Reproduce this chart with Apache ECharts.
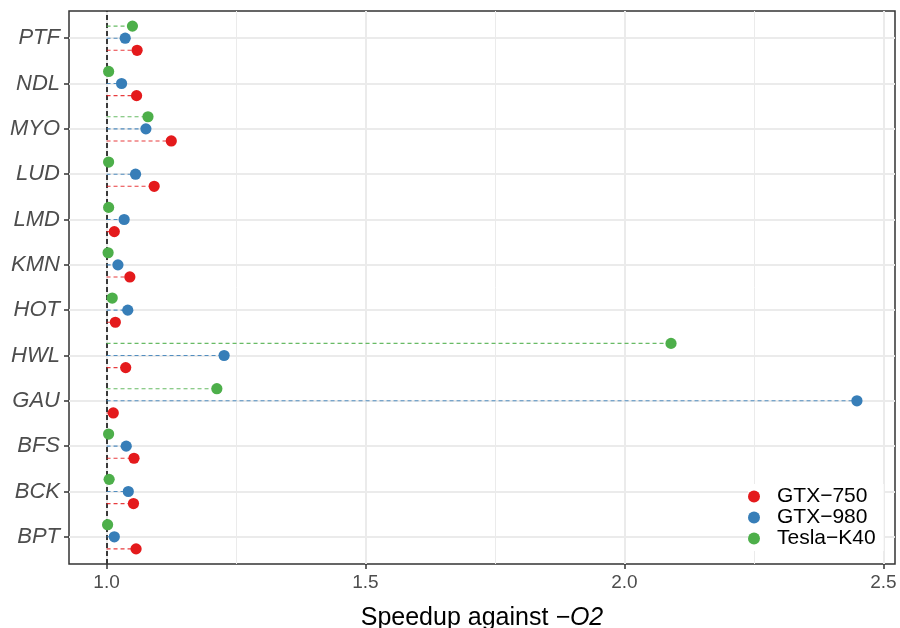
<!DOCTYPE html>
<html>
<head>
<meta charset="utf-8">
<script src="https://cdn.jsdelivr.net/npm/echarts@6/dist/echarts.min.js"></script>
<style>html,body{margin:0;padding:0;background:#fff}#c{width:900px;height:628px}</style>
</head>
<body>
<div id="c"></div>
<script>
// Categories from bottom to top
const categories = ['BPT','BCK','BFS','GAU','HWL','HOT','KMN','LMD','LUD','MYO','NDL','PTF'];
const gtx750 =  [1.057, 1.052, 1.053, 1.013, 1.037, 1.017, 1.045, 1.015, 1.092, 1.125, 1.058, 1.059];
const gtx980 =  [1.015, 1.042, 1.038, 2.449, 1.227, 1.041, 1.022, 1.034, 1.056, 1.076, 1.029, 1.036];
const teslaK40 =[1.002, 1.005, 1.004, 1.213, 2.090, 1.011, 1.003, 1.004, 1.004, 1.080, 1.004, 1.050];
const seriesNames = ['GTX\u2212750', 'GTX\u2212980', 'Tesla\u2212K40'];
const xTicks = [1.0, 1.5, 2.0, 2.5];
const xMinor = [1.25, 1.75, 2.25];
const baseline = 1.0;

const colors = ['#E41A1C', '#377EB8', '#4DAF4A'];
const dodge = [-0.267, 0, 0.267];
const allSeries = [gtx750, gtx980, teslaK40];
const FONT = '"Liberation Sans", Arial, Helvetica, sans-serif';

function makeSeries(idx) {
  const vals = allSeries[idx];
  return {
    name: seriesNames[idx],
    type: 'custom',
    coordinateSystem: 'cartesian2d',
    itemStyle: { color: colors[idx], borderWidth: 0 },
    z: 5,
    data: vals.map((v, i) => [v, i + dodge[idx]]),
    encode: { x: 0, y: 1 },
    renderItem: function (params, api) {
      const p = api.coord([api.value(0), api.value(1)]);
      const p0 = api.coord([baseline, api.value(1)]);
      return {
        type: 'group',
        children: [
          { type: 'line', shape: { x1: p0[0], y1: p0[1], x2: p[0], y2: p[1] },
            style: { stroke: colors[idx], lineWidth: 1.1, lineDash: [4, 3], opacity: 0.85 } },
          { type: 'circle', shape: { cx: p[0], cy: p[1], r: 5.6 },
            style: { fill: colors[idx] } }
        ]
      };
    }
  };
}

const chart = echarts.init(document.getElementById('c'), null, { renderer: 'canvas' });
const yIdx = categories.map((c, i) => i);

chart.setOption({
  animation: false,
  textStyle: { fontFamily: FONT },
  grid: { left: 69, right: 5, top: 11, bottom: 64, outerBoundsMode: 'none', containLabel: false,
    show: true, borderColor: '#333333', borderWidth: 1.5, backgroundColor: 'transparent' },
  xAxis: {
    type: 'value', min: 0.9275, max: 2.5225,
    axisLine: { show: false, onZero: false },
    axisTick: { show: true, length: 5, customValues: xTicks, lineStyle: { color: '#333333', width: 1.5 } },
    axisLabel: { customValues: xTicks, color: '#4d4d4d', fontSize: 19, margin: 9, fontFamily: FONT,
      formatter: v => v.toFixed(1) },
    splitLine: { show: true, lineStyle: { color: '#ebebeb', width: 2 } },
    name: 'Speedup against {i|\u2212O2}',
    nameLocation: 'middle', nameGap: 42,
    nameTextStyle: { color: '#000', fontSize: 25, fontFamily: FONT,
      rich: { i: { fontStyle: 'italic', fontSize: 25, color: '#000', fontFamily: FONT } } }
  },
  yAxis: {
    type: 'value', min: -0.6, max: 11.6,
    axisLine: { show: false, onZero: false },
    axisTick: { show: true, length: 5, customValues: yIdx, lineStyle: { color: '#333333', width: 1.5 } },
    axisLabel: { customValues: yIdx, color: '#4d4d4d', fontSize: 22, fontStyle: 'italic', margin: 9, fontFamily: FONT,
      formatter: v => categories[Math.round(v)] },
    splitLine: { show: true, lineStyle: { color: '#ebebeb', width: 2 } }
  },
  legend: {
    left: 748, top: 484, orient: 'vertical', z: 10,
    data: seriesNames.map((n, i) => ({ name: n, icon: 'circle', itemStyle: { color: colors[i], borderWidth: 0 } })),
    itemWidth: 12, itemHeight: 12, itemGap: 0,
    backgroundColor: '#ffffff', padding: [2, 8, 2, 0],
    textStyle: { fontSize: 21, color: '#000', lineHeight: 21, fontFamily: FONT, padding: [0, 0, 0, 12] }
  },
  series: [
    {
      type: 'line', data: [], silent: true, z: 1,
      markLine: {
        silent: true, symbol: 'none', label: { show: false },
        lineStyle: { color: '#ebebeb', width: 1, type: 'solid' },
        data: xMinor.map(v => ({ xAxis: v }))
      }
    },
    {
      type: 'line', data: [], silent: true, z: 3,
      markLine: {
        silent: true, symbol: 'none', label: { show: false },
        lineStyle: { color: '#000000', width: 1.5, type: [5, 3] },
        data: [{ xAxis: baseline }]
      }
    },
    makeSeries(0), makeSeries(1), makeSeries(2)
  ]
});
</script>
</body>
</html>
